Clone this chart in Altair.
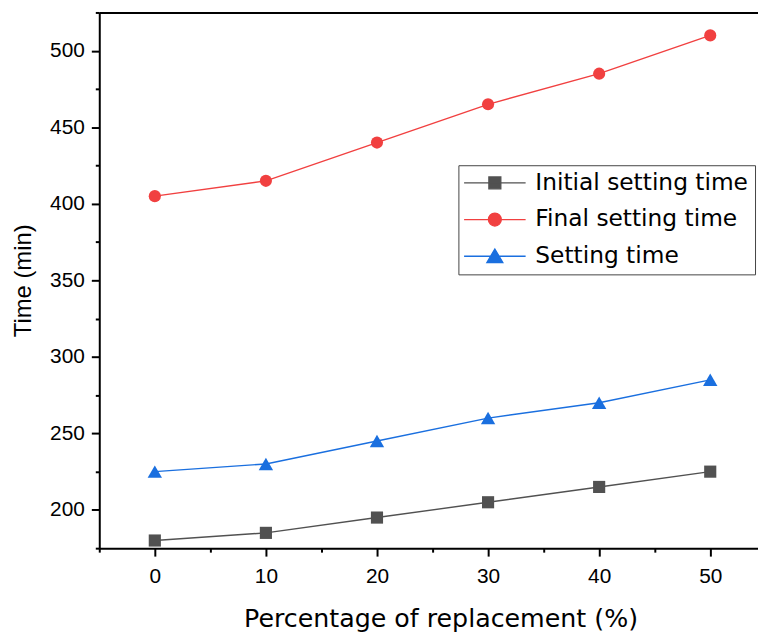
import altair as alt
import pandas as pd

replacement = [0, 10, 20, 30, 40, 50]
initial_setting = [180, 185, 195, 205, 215, 225]
final_setting = [405, 415, 440, 465, 485, 510]
setting_time = [225, 230, 245, 260, 270, 285]

series_names = ["Initial setting time", "Final setting time", "Setting time"]
series_colors = ["#515151", "#F14040", "#1A6FDF"]
series_shapes = ["square", "circle", "triangle-up"]
series_sizes = [150, 150, 210]
# legend symbols: a short line with the marker in its middle
legend_shapes = [
    "M-4.43,0H4.43M-0.86,-0.86H0.86V0.86H-0.86Z",
    "M-4.43,0H4.43M-0.93,0A0.93,0.93,0,1,0,0.93,0A0.93,0.93,0,1,0,-0.93,0Z",
    "M-4.43,0H4.43M0,-1.05L1.15,0.9H-1.15Z",
]

x_ticks = [-5, 0, 5, 10, 15, 20, 25, 30, 35, 40, 45, 50]
y_ticks = [175, 200, 225, 250, 275, 300, 325, 350, 375, 400, 425, 450, 475, 500, 525]

rows = []
for name, vals in zip(series_names, [initial_setting, final_setting, setting_time]):
    for xv, yv in zip(replacement, vals):
        rows.append({"pct": xv, "time": yv, "series": name})
df = pd.DataFrame(rows)

FONT = "Liberation Sans"
WIDE = "DejaVu Sans"

legend = alt.Legend(
    title=None,
    orient="none",
    legendX=362,
    legendY=154,
    labelFont=WIDE,
    labelFontSize=23.5,
    labelColor="black",
    labelLimit=400,
    symbolSize=196,
    symbolStrokeWidth=1.3,
    symbolOpacity=1,
    symbolOffset=19,
    labelOffset=29,
    rowPadding=12,
    padding=6,
    strokeColor="#444444",
    fillColor="white",
)

axis_common = dict(
    domainColor="black",
    domainWidth=2,
    tickColor="black",
    tickWidth=2,
    labelFont=FONT,
    labelFontSize=21,
    labelColor="black",
    titleFontWeight="normal",
    titleColor="black",
    grid=False,
)

x_bottom = alt.Axis(
    values=x_ticks,
    labelExpr="datum.value % 10 === 0 ? datum.label : ''",
    tickSize={"condition": {"test": "datum.value % 10 === 0", "value": 8}, "value": 4},
    labelPadding=10,
    titlePadding=20,
    title="Percentage of replacement (%)",
    titleFont=WIDE,
    titleFontSize=25.5,
    titleX=344,
    orient="bottom",
    **axis_common,
)
x_top = alt.Axis(
    orient="top",
    labels=False,
    ticks=False,
    title=None,
    domain=True,
    domainColor="black",
    domainWidth=2,
    grid=False,
)
y_axis = alt.Axis(
    values=y_ticks,
    labelExpr="datum.value % 50 === 0 ? datum.label : ''",
    tickSize={"condition": {"test": "datum.value % 50 === 0", "value": 8}, "value": 4},
    labelPadding=7,
    titlePadding=14,
    title="Time (min)",
    titleFont=FONT,
    titleFontSize=24,
    **axis_common,
)

x_scale = alt.Scale(domain=[-5, 54.3], nice=False, zero=False)
y_scale = alt.Scale(domain=[175, 525], nice=False, zero=False)
color_scale = alt.Scale(domain=series_names, range=series_colors)

base = alt.Chart(df)

lines = base.mark_line(strokeWidth=1.4).encode(
    x=alt.X("pct:Q", scale=x_scale, axis=x_bottom),
    y=alt.Y("time:Q", scale=y_scale, axis=y_axis),
    color=alt.Color("series:N", scale=color_scale, legend=legend),
)

point_layers = []
for i, (name, shp, sz) in enumerate(zip(series_names, series_shapes, series_sizes)):
    point_layers.append(
        base.transform_filter(alt.datum.series == name)
        .mark_point(filled=True, opacity=1, size=sz, shape=shp)
        .encode(
            x=alt.X("pct:Q", scale=x_scale, axis=x_top if i == 0 else None),
            y=alt.Y("time:Q", scale=y_scale, axis=y_axis),
            color=alt.Color("series:N", scale=color_scale, legend=legend),
        )
    )

legend_layer = base.mark_point(filled=True, opacity=0).encode(
    x=alt.X("pct:Q", scale=x_scale, axis=None),
    y=alt.Y("time:Q", scale=y_scale, axis=y_axis),
    color=alt.Color("series:N", scale=color_scale, legend=legend),
    shape=alt.Shape(
        "series:N",
        scale=alt.Scale(domain=series_names, range=legend_shapes),
        legend=legend,
    ),
)

chart = (
    alt.layer(lines, *point_layers, legend_layer)
    .resolve_axis(x="independent")
    .properties(
        width=664,
        height=540,
        autosize=alt.AutoSizeParams(type="none"),
        padding={"left": 92, "top": 2, "right": 0, "bottom": 82},
    )
    .configure_view(stroke=None)
    .configure(background="white")
)

chart.save("out.html", embed_options={"renderer": "svg", "actions": False})
